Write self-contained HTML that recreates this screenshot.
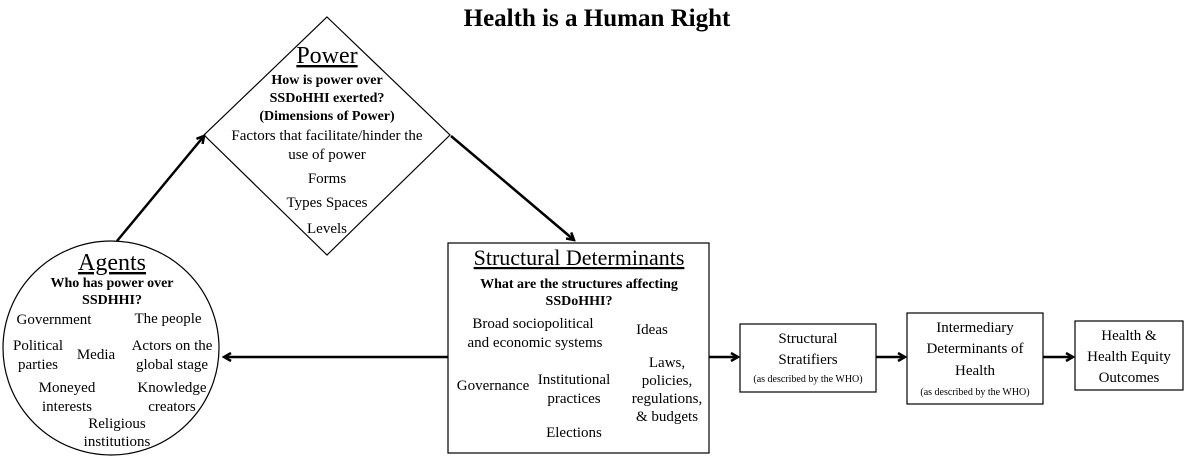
<!DOCTYPE html>
<html><head><meta charset="utf-8"><style>
body{margin:0;background:#fff}
svg{display:block;font-family:"Liberation Serif",serif}
.b{font-weight:bold}
.u{text-decoration:underline}
</style></head><body>
<svg width="1194" height="470" viewBox="0 0 1194 470" xmlns="http://www.w3.org/2000/svg">
<defs><marker id="a" markerWidth="10" markerHeight="10" refX="8" refY="5" orient="auto" markerUnits="userSpaceOnUse"><path d="M1,1 L8,5 L1,9" fill="none" stroke="#000" stroke-width="2.5"/></marker></defs>
<text x="597" y="26" text-anchor="middle" font-size="25" class="b">Health is a Human Right</text>
<polygon points="327,17 450,135 327,255 204,135" fill="#fff" stroke="#000" stroke-width="1.2"/>
<g text-anchor="middle" font-size="15">
<text x="327" y="63" font-size="24" class="u">Power</text>
<text x="327" y="84" class="b" font-size="14">How is power over</text>
<text x="327" y="102" class="b" font-size="14">SSDoHHI exerted?</text>
<text x="327" y="120" class="b" font-size="14">(Dimensions of Power)</text>
<text x="327" y="140">Factors that facilitate/hinder the</text>
<text x="327" y="159">use of power</text>
<text x="327" y="183">Forms</text>
<text x="327" y="207">Types  Spaces</text>
<text x="327" y="233">Levels</text>
</g>
<ellipse cx="111" cy="348" rx="108" ry="107" fill="#fff" stroke="#000" stroke-width="1.2"/>
<g text-anchor="middle" font-size="15">
<text x="112" y="270" font-size="24" class="u">Agents</text>
<text x="112" y="287" class="b" font-size="14">Who has power over</text>
<text x="112" y="304" class="b" font-size="14">SSDHHI?</text>
<text x="54" y="324">Government</text>
<text x="168" y="323">The people</text>
<text x="38" y="350">Political</text>
<text x="38" y="369">parties</text>
<text x="96" y="359">Media</text>
<text x="172" y="350">Actors on the</text>
<text x="172" y="369">global stage</text>
<text x="67" y="392">Moneyed</text>
<text x="67" y="411">interests</text>
<text x="172" y="392">Knowledge</text>
<text x="172" y="411">creators</text>
<text x="117" y="428">Religious</text>
<text x="117" y="446">institutions</text>
</g>
<rect x="448" y="243" width="261" height="210" fill="#fff" stroke="#000" stroke-width="1.2"/>
<g text-anchor="middle" font-size="15">
<text x="579" y="265" font-size="22" class="u">Structural Determinants</text>
<text x="579" y="288" class="b" font-size="14">What are the structures affecting</text>
<text x="579" y="305" class="b" font-size="14">SSDoHHI?</text>
<text x="533" y="328">Broad sociopolitical</text>
<text x="535" y="347">and economic systems</text>
<text x="652" y="334">Ideas</text>
<text x="667" y="367">Laws,</text>
<text x="667" y="385">policies,</text>
<text x="667" y="403">regulations,</text>
<text x="667" y="421">&amp; budgets</text>
<text x="493" y="390">Governance</text>
<text x="574" y="384">Institutional</text>
<text x="574" y="403">practices</text>
<text x="574" y="437">Elections</text>
</g>
<rect x="740" y="324" width="136" height="68" fill="#fff" stroke="#000" stroke-width="1.2"/>
<g text-anchor="middle" font-size="15">
<text x="808" y="343">Structural</text>
<text x="808" y="364">Stratifiers</text>
<text x="808" y="382" font-size="10">(as described by the WHO)</text>
</g>
<rect x="907" y="313" width="136" height="91" fill="#fff" stroke="#000" stroke-width="1.2"/>
<g text-anchor="middle" font-size="15">
<text x="975" y="332">Intermediary</text>
<text x="975" y="353">Determinants of</text>
<text x="975" y="375">Health</text>
<text x="975" y="395" font-size="10">(as described by the WHO)</text>
</g>
<rect x="1075" y="321" width="108" height="69" fill="#fff" stroke="#000" stroke-width="1.2"/>
<g text-anchor="middle" font-size="15">
<text x="1129" y="340">Health &amp;</text>
<text x="1129" y="361">Health Equity</text>
<text x="1129" y="382">Outcomes</text>
</g>
<g stroke="#000" stroke-width="2.5" fill="none" marker-end="url(#a)">
<line x1="117" y1="241" x2="204" y2="136"/>
<line x1="451" y1="136" x2="574" y2="240"/>
<line x1="448" y1="357" x2="224" y2="357"/>
<line x1="709" y1="357" x2="738" y2="357"/>
<line x1="876" y1="357" x2="905" y2="357"/>
<line x1="1043" y1="357" x2="1073" y2="357"/>
</g>
</svg>
</body></html>
